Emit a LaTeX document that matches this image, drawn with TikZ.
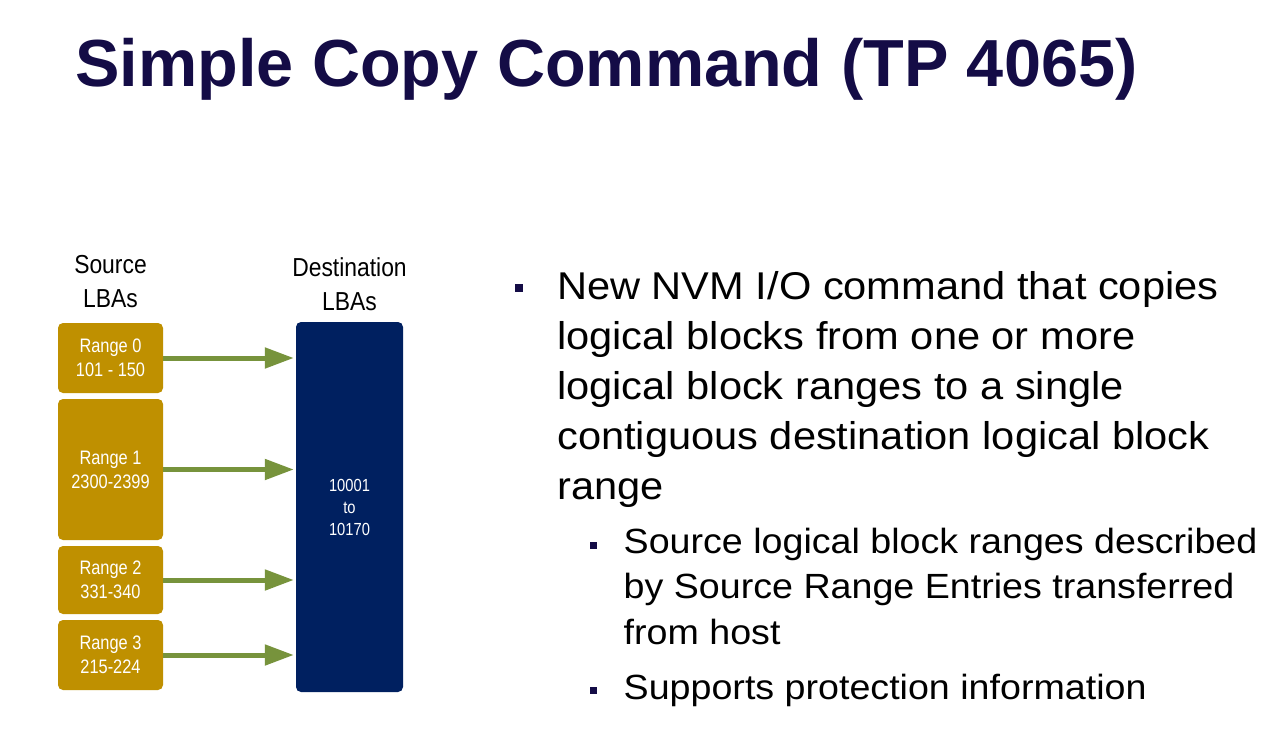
\documentclass[tikz,border=0pt]{standalone}
\usepackage{fontspec}
\setmainfont{Liberation Sans}
\newfontfamily\narrowfont[FakeStretch=0.84]{Liberation Sans}
\newfontfamily\labelfont[FakeStretch=0.88]{Liberation Sans}
\newfontfamily\bodyfont[FakeStretch=1.075]{Liberation Sans}
\usetikzlibrary{arrows.meta}
\definecolor{titlenavy}{HTML}{140C46}
\definecolor{gold}{HTML}{BF9000}
\definecolor{boxnavy}{HTML}{002060}
\definecolor{arrowgreen}{HTML}{77933C}
\begin{document}
\begin{tikzpicture}[x=1pt,y=-1pt,
 rangebox/.style={fill=gold, rounded corners=5pt, minimum width=105pt, inner sep=0pt, text=white, align=center, font=\narrowfont\fontsize{19.5}{24}\selectfont},
 destbox/.style={fill=boxnavy, rounded corners=5pt, minimum width=107pt, minimum height=370pt, inner sep=0pt, text=white, align=center, font=\narrowfont\fontsize{17.5}{22}\selectfont},
 lbl/.style={anchor=base, align=center, inner sep=0pt, font=\labelfont\fontsize{26}{34}\selectfont},
 copyarrow/.style={draw=arrowgreen, line width=5pt, -{Triangle[length=29pt,width=20pt]}, shorten >=2pt},
 bsq/.style={fill=titlenavy, inner sep=0pt, minimum size=8.5pt},
 ssq/.style={fill=titlenavy, inner sep=0pt, minimum size=7pt},
 bodytext/.style={anchor=base west, align=left, inner sep=0pt}
]
\useasboundingbox[fill=white] (0,0) rectangle (1265,754);

% title
\node[anchor=base west, inner sep=0pt, text=titlenavy, font=\bfseries\fontsize{66.6}{70}\selectfont] (title) at (75,87) {Simple Copy Command (TP 4065)};

% labels (anchor = baseline of last line)
\node[lbl] (srclbl) at (110.5,307) {Source\\LBAs};
\node[lbl] (dstlbl) at (349.5,310) {Destination\\LBAs};

% source ranges
\node[rangebox, minimum height=70pt] (r0) at (110.5,358) {Range 0\\101 - 150};
\node[rangebox, minimum height=141pt] (r1) at (110.5,469.5) {Range 1\\2300-2399};
\node[rangebox, minimum height=68pt] (r2) at (110.5,580) {Range 2\\331-340};
\node[rangebox, minimum height=70pt] (r3) at (110.5,655) {Range 3\\215-224};

% destination
\node[destbox] (dest) at (349.5,507) {10001\\to\\10170};

% arrows
\draw[copyarrow] (r0.east) -- (r0.east -| dest.west);
\draw[copyarrow] (r1.east) -- (r1.east -| dest.west);
\draw[copyarrow] (r2.east) -- (r2.east -| dest.west);
\draw[copyarrow] (r3.east) -- (r3.east -| dest.west);

% bullets (text anchors = baseline of last line)
\node[bsq] (b1) at (519,288) {};
\node[bodytext, font=\bodyfont\fontsize{38.7}{50}\selectfont] (t1) at (557,499)
 {New NVM I/O command that copies\\logical blocks from one or more\\logical block ranges to a single\\contiguous destination logical block\\range};

\node[ssq] (b2) at (593.5,545) {};
\node[bodytext, font=\bodyfont\fontsize{35}{45.5}\selectfont] (t2) at (623.5,644)
 {Source logical block ranges described\\by Source Range Entries transferred\\from host};

\node[ssq] (b3) at (593.5,690.5) {};
\node[bodytext, font=\bodyfont\fontsize{35}{45.5}\selectfont] (t3) at (623.5,699)
 {Supports protection information};
\end{tikzpicture}
\end{document}
